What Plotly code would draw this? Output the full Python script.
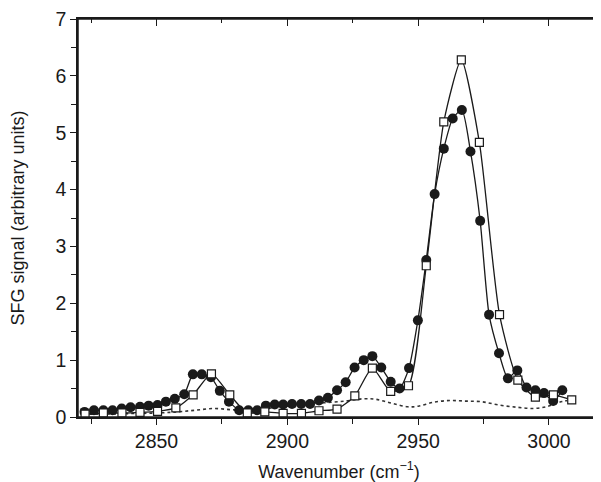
import plotly.graph_objects as go

# Filled circles series
circ_wn = [2822.5, 2826.1, 2829.7, 2833.2, 2836.7, 2840.1, 2843.7, 2847.0, 2850.4, 2853.6,
           2857.0, 2860.6, 2863.9, 2867.3, 2870.8, 2874.2, 2877.7, 2881.6, 2885.1, 2888.5,
           2891.8, 2895.2, 2898.4, 2901.8, 2905.3, 2908.7, 2912.1, 2915.5, 2919.0, 2922.3,
           2925.7, 2929.2, 2932.5, 2935.9, 2939.5, 2942.9, 2946.5, 2949.9, 2953.1, 2956.3,
           2959.8, 2963.2, 2966.7, 2970.0, 2973.7, 2977.1, 2980.9, 2984.3, 2987.9, 2991.4,
           2994.8, 2998.1, 3001.6, 3005.1]
circ_val = [0.09, 0.12, 0.12, 0.12, 0.15, 0.17, 0.18, 0.20, 0.21, 0.27,
            0.32, 0.40, 0.75, 0.75, 0.70, 0.46, 0.27, 0.12, 0.12, 0.12,
            0.20, 0.22, 0.22, 0.23, 0.23, 0.23, 0.29, 0.34, 0.47, 0.61,
            0.87, 1.00, 1.07, 0.87, 0.62, 0.50, 0.86, 1.70, 2.76, 3.92,
            4.72, 5.25, 5.40, 4.67, 3.45, 1.80, 1.12, 0.68, 0.82, 0.52,
            0.47, 0.42, 0.28, 0.47]

# Open squares series
sq_wn = [2822.7, 2829.7, 2836.8, 2843.7, 2850.4, 2857.4, 2864.0, 2871.0, 2878.0, 2884.7,
         2891.4, 2898.4, 2905.4, 2912.1, 2919.0, 2925.8, 2932.5, 2939.5, 2946.3, 2953.1,
         2959.8, 2966.5, 2973.4, 2981.1, 2988.1, 2994.8, 3001.7, 3008.7]
sq_val = [0.05, 0.07, 0.07, 0.08, 0.10, 0.16, 0.39, 0.76, 0.39, 0.07,
          0.09, 0.065, 0.065, 0.11, 0.14, 0.37, 0.86, 0.45, 0.55, 2.66,
          5.19, 6.28, 4.83, 1.80, 0.65, 0.35, 0.39, 0.30]

# Dotted background curve
dot_wn = [2822, 2830, 2840, 2850, 2858, 2865, 2872, 2878, 2884, 2890, 2898, 2906, 2914,
          2922, 2929, 2934, 2940, 2946, 2950, 2956, 2962, 2968, 2974, 2981, 2988, 2994,
          2999, 3004, 3007]
dot_val = [0.05, 0.05, 0.06, 0.07, 0.09, 0.12, 0.15, 0.13, 0.12, 0.14, 0.18, 0.22, 0.25,
           0.28, 0.32, 0.31, 0.24, 0.18, 0.19, 0.26, 0.29, 0.28, 0.27, 0.21, 0.17, 0.15,
           0.18, 0.26, 0.29]

x_ticks = [2850, 2900, 2950, 3000]
y_ticks = [0, 1, 2, 3, 4, 5, 6, 7]
x_range = [2820, 3019.5]
y_range = [0, 7]

FONT = "Liberation Sans, Arial, sans-serif"
INK = "#1a1a1a"

fig = go.Figure()
fig.add_trace(go.Scatter(x=dot_wn, y=dot_val, mode="lines",
                         line=dict(color="#333", width=1.6, dash="dot", shape="spline"),
                         hoverinfo="skip", showlegend=False))
fig.add_trace(go.Scatter(x=circ_wn, y=circ_val, mode="lines+markers",
                         line=dict(color=INK, width=1.3, shape="spline", smoothing=0.6),
                         marker=dict(symbol="circle", size=10, color=INK),
                         showlegend=False))
fig.add_trace(go.Scatter(x=sq_wn, y=sq_val, mode="lines+markers",
                         line=dict(color=INK, width=1.3, shape="spline", smoothing=0.6),
                         marker=dict(symbol="square", size=8, color="white",
                                     line=dict(color=INK, width=1.2)),
                         showlegend=False))
# dummy trace to anchor the mirrored top/right axes
fig.add_trace(go.Scatter(x=[None], y=[None], xaxis="x2", yaxis="y2",
                         showlegend=False, hoverinfo="skip"))

axis_common = dict(showgrid=False, zeroline=False, showline=True, linecolor=INK,
                   linewidth=1.5, tickcolor=INK, tickwidth=1.3, automargin=False)

# page body has an 8px default margin, so the figure is sized/offset to compensate
fig.update_layout(
    width=593, height=474,
    margin=dict(l=70, r=1, t=11, b=65, autoexpand=False),
    paper_bgcolor="white", plot_bgcolor="white",
    font=dict(family=FONT, size=18, color=INK),
    xaxis=dict(range=x_range, tickvals=x_ticks, ticks="outside", ticklen=6,
               ticklabeloverflow="allow",
               minor=dict(dtick=25, tick0=2800, ticks="outside", ticklen=5,
                          tickcolor=INK, tickwidth=1.3),
               title=dict(text="Wavenumber (cm<sup>−1</sup>)", standoff=14,
                          font=dict(size=18)),
               tickfont=dict(size=19.5), **axis_common),
    yaxis=dict(range=y_range, tickvals=y_ticks, ticks="outside", ticklen=6,
               ticklabeloverflow="allow",
               minor=dict(dtick=0.5, tick0=0, ticks="outside", ticklen=5,
                          tickcolor=INK, tickwidth=1.3),
               title=dict(text="SFG signal (arbitrary units)", standoff=27,
                          font=dict(size=18)),
               tickfont=dict(size=19.5), **axis_common),
    xaxis2=dict(range=x_range, overlaying="x", side="top", anchor="y",
                tickvals=x_ticks, ticks="inside", ticklen=7, showticklabels=False,
                minor=dict(dtick=25, tick0=2800, ticks="inside", ticklen=4,
                           tickcolor=INK, tickwidth=1.3),
                **axis_common),
    yaxis2=dict(range=y_range, overlaying="y", side="right", anchor="x",
                tickvals=y_ticks, ticks="inside", ticklen=7, showticklabels=False,
                minor=dict(dtick=0.5, tick0=0, ticks="inside", ticklen=4,
                           tickcolor=INK, tickwidth=1.3),
                **axis_common),
    shapes=[dict(type="rect", xref="paper", yref="paper", x0=0, x1=1, y0=0, y1=1,
                 line=dict(color=INK, width=1.5), fillcolor="rgba(0,0,0,0)",
                 layer="above")],
)

fig.write_html("out.html")
